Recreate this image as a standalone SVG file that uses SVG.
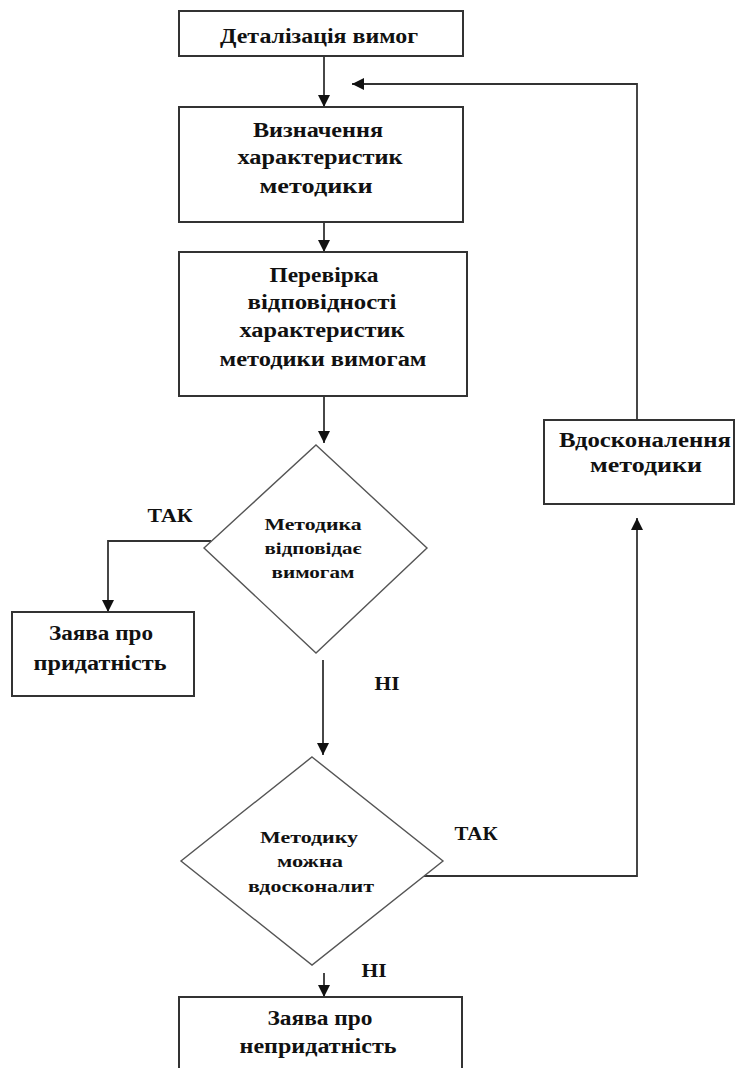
<svg xmlns="http://www.w3.org/2000/svg" width="735" height="1068" viewBox="0 0 735 1068">
<style>
  .box{fill:#fff;stroke:#333;stroke-width:2}
  .dia{fill:#fff;stroke:#555;stroke-width:1.4}
  .ln{fill:none;stroke:#333;stroke-width:1.8}
  text{font-family:"Liberation Serif","Times New Roman",serif;font-weight:bold;fill:#111;text-anchor:middle}
  .t{font-size:20px}
  .d{font-size:16px}
  .l{font-size:19px}
</style>
<defs>
  <marker id="arr" viewBox="0 0 12 12" refX="12" refY="6" markerWidth="12" markerHeight="12" markerUnits="userSpaceOnUse" orient="auto">
    <path d="M0,0 L12,6 L0,12 Z" fill="#111"/>
  </marker>
</defs>
<rect width="735" height="1068" fill="#fff"/>
<g id="connectors">
  <line class="ln" x1="324" y1="56" x2="324" y2="107" marker-end="url(#arr)"/>
  <polyline class="ln" points="637,420 637,84 352,84" marker-end="url(#arr)"/>
  <line class="ln" x1="324" y1="222" x2="324" y2="252" marker-end="url(#arr)"/>
  <line class="ln" x1="324" y1="396" x2="324" y2="443" marker-end="url(#arr)"/>
  <polyline class="ln" points="211,541 108,541 108,612" marker-end="url(#arr)"/>
  <line class="ln" x1="323" y1="660" x2="323" y2="755" marker-end="url(#arr)"/>
  <polyline class="ln" points="424,876 637,876 637,518" marker-end="url(#arr)"/>
  <line class="ln" x1="324" y1="973" x2="324" y2="997" marker-end="url(#arr)"/>
  <text class="l" x="170" y="522" textLength="45" lengthAdjust="spacingAndGlyphs">ТАК</text>
  <text class="l" x="387" y="690" textLength="25" lengthAdjust="spacingAndGlyphs">НІ</text>
  <text class="l" x="476" y="840" textLength="43" lengthAdjust="spacingAndGlyphs">ТАК</text>
  <text class="l" x="374" y="977" textLength="25" lengthAdjust="spacingAndGlyphs">НІ</text>
</g>
<g id="n1">
  <rect class="box" x="179" y="11" width="284" height="45"/>
  <text class="t" x="319" y="43" textLength="198" lengthAdjust="spacingAndGlyphs">Деталізація вимог</text>
</g>
<g id="n2">
  <rect class="box" x="179" y="107" width="284" height="115"/>
  <text class="t" x="318" y="137" textLength="130" lengthAdjust="spacingAndGlyphs">Визначення</text>
  <text class="t" x="320" y="164" textLength="165" lengthAdjust="spacingAndGlyphs">характеристик</text>
  <text class="t" x="316" y="193" textLength="113" lengthAdjust="spacingAndGlyphs">методики</text>
</g>
<g id="n3">
  <rect class="box" x="179" y="252" width="288" height="144"/>
  <text class="t" x="324" y="282" textLength="109" lengthAdjust="spacingAndGlyphs">Перевірка</text>
  <text class="t" x="322" y="309" textLength="149" lengthAdjust="spacingAndGlyphs">відповідності</text>
  <text class="t" x="322" y="337" textLength="165" lengthAdjust="spacingAndGlyphs">характеристик</text>
  <text class="t" x="323" y="366" textLength="207" lengthAdjust="spacingAndGlyphs">методики вимогам</text>
</g>
<g id="d1">
  <polygon class="dia" points="316,445 427,548 316,653 204,548"/>
  <text class="d" x="313" y="530" textLength="97" lengthAdjust="spacingAndGlyphs">Методика</text>
  <text class="d" x="313" y="554" textLength="97" lengthAdjust="spacingAndGlyphs">відповідає</text>
  <text class="d" x="313" y="578" textLength="83" lengthAdjust="spacingAndGlyphs">вимогам</text>
</g>
<g id="n4">
  <rect class="box" x="12" y="612" width="182" height="84"/>
  <text class="t" x="101" y="640" textLength="104" lengthAdjust="spacingAndGlyphs">Заява про</text>
  <text class="t" x="100" y="670" textLength="133" lengthAdjust="spacingAndGlyphs">придатність</text>
</g>
<g id="d2">
  <polygon class="dia" points="312,757 443,861 312,965 181,861"/>
  <text class="d" x="309" y="843" textLength="98" lengthAdjust="spacingAndGlyphs">Методику</text>
  <text class="d" x="310" y="867" textLength="66" lengthAdjust="spacingAndGlyphs">можна</text>
  <text class="d" x="311" y="892" textLength="126" lengthAdjust="spacingAndGlyphs">вдосконалит</text>
</g>
<g id="n5">
  <rect class="box" x="544" y="420" width="190" height="84"/>
  <text class="t" x="645" y="447" textLength="172" lengthAdjust="spacingAndGlyphs">Вдосконалення</text>
  <text class="t" x="646" y="472" textLength="112" lengthAdjust="spacingAndGlyphs">методики</text>
</g>
<g id="n6">
  <rect class="box" x="179" y="997" width="283" height="80"/>
  <text class="t" x="320" y="1025" textLength="105" lengthAdjust="spacingAndGlyphs">Заява про</text>
  <text class="t" x="318" y="1053" textLength="157" lengthAdjust="spacingAndGlyphs">непридатність</text>
</g>
</svg>
